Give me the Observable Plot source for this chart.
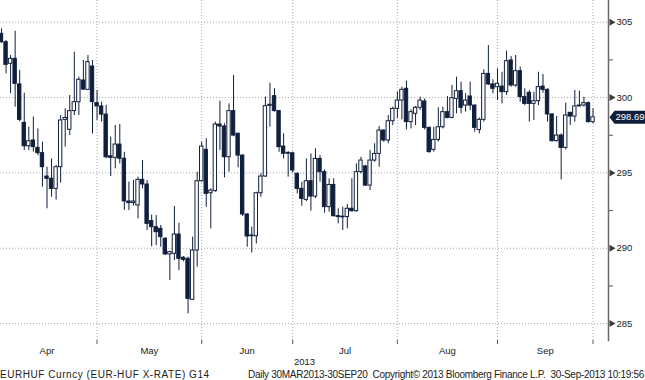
<!DOCTYPE html>
<html><head><meta charset="utf-8">
<script src="https://cdn.jsdelivr.net/npm/d3@7"></script>
<script src="https://cdn.jsdelivr.net/npm/@observablehq/plot@0.6"></script>
<style>
body{margin:0;background:#fff;width:645px;height:380px;overflow:hidden;font-family:"Liberation Sans",Arial,sans-serif;}
#footer{position:relative;height:14px;font-size:10px;color:#222;}
#footer span{position:absolute;top:3px;white-space:pre;}
</style></head><body>
<div id="chart"></div>
<div id="footer"><span id="fl" style="left:0px;letter-spacing:0.55px">EURHUF Curncy (EUR-HUF X-RATE) G14</span><span id="fr" style="left:248px;letter-spacing:-0.29px">Daily 30MAR2013-30SEP20  Copyright© 2013 Bloomberg Finance L.P.  30-Sep-2013 10:19:56</span></div>
<script>
const opens = [304.23,303.67,302.24,302.57,300.87,298.32,296.77,297.15,296.66,296.31,294.76,294.61,293.94,295.38,298.52,297.86,299.10,299.69,301.13,300.51,302.06,299.63,299.41,298.87,296.10,296.00,296.88,295.94,293.10,293.00,292.84,294.54,294.23,291.80,291.40,291.29,290.63,289.59,289.63,290.91,289.37,289.30,286.58,289.85,294.45,296.53,293.65,293.79,298.21,298.08,296.04,299.10,297.60,296.15,292.24,290.80,290.80,293.65,294.76,299.45,300.09,299.10,296.75,296.27,296.30,294.94,293.94,293.21,294.45,293.43,295.93,295.05,292.73,294.20,292.13,292.10,292.07,292.62,292.46,295.05,295.43,294.16,295.82,296.26,297.81,297.15,298.43,299.25,299.80,300.58,298.37,298.92,299.32,299.74,297.99,296.53,297.19,298.03,299.03,298.65,299.91,300.42,299.47,300.07,299.47,297.85,298.52,301.57,300.87,300.69,300.73,300.36,302.46,300.80,301.75,300.03,300.31,299.58,299.76,300.73,300.51,298.88,297.11,297.48,296.66,298.99,298.74,299.41,299.47,299.63,298.37];
const highs = [304.56,303.79,302.79,304.40,301.80,300.29,298.03,298.70,297.92,297.04,295.38,295.93,295.50,298.81,299.25,300.14,303.01,301.35,302.46,302.79,302.46,300.47,299.70,299.48,297.37,298.15,298.21,296.37,294.39,294.50,294.72,295.83,294.50,292.20,292.17,291.51,290.70,289.80,292.77,291.66,289.45,289.41,290.74,295.05,297.04,297.26,293.94,298.37,299.76,298.26,299.58,301.46,297.63,296.20,292.30,291.40,293.72,294.94,300.03,300.95,300.58,299.15,297.60,296.40,296.37,295.00,294.38,295.93,296.26,296.60,296.15,295.20,294.61,294.61,292.62,292.72,292.90,294.61,295.60,296.04,295.50,296.49,296.93,298.08,297.85,298.81,299.36,300.36,300.69,301.09,299.19,299.41,300.03,299.91,298.03,298.03,299.32,299.36,300.07,300.80,301.35,301.02,300.25,301.02,299.50,298.65,301.84,303.45,301.18,301.91,301.68,303.08,302.72,302.79,302.02,300.58,300.47,300.36,301.68,301.53,300.58,298.92,298.74,297.59,299.63,299.00,300.47,300.43,300.02,299.70,299.26];
const lows = [303.60,301.57,300.25,299.36,298.40,296.49,296.49,296.38,296.15,294.05,292.62,293.39,293.20,294.32,296.71,297.48,298.80,298.81,300.47,300.47,297.59,298.48,298.37,295.94,294.76,295.27,295.60,292.51,292.50,292.80,291.95,293.94,291.18,290.10,290.18,290.07,289.52,287.86,289.19,288.52,289.10,285.65,286.53,288.74,294.38,292.72,291.29,293.72,296.49,294.67,295.05,297.40,295.34,292.11,290.07,289.68,290.29,293.39,294.70,298.04,299.04,296.37,295.93,294.72,294.99,293.61,292.79,293.10,292.46,293.30,294.38,292.33,292.40,292.07,291.62,291.18,291.29,292.40,292.40,294.94,294.10,293.83,295.71,295.38,297.04,296.93,298.14,298.59,298.52,297.85,297.92,298.14,299.14,297.85,296.31,296.38,297.04,297.92,298.59,298.59,298.92,298.92,299.03,299.14,297.70,297.59,298.37,300.80,300.25,299.80,299.58,300.14,300.69,300.69,299.69,299.47,298.37,298.48,299.47,300.29,298.37,297.04,297.04,294.54,296.53,298.15,298.37,299.40,299.37,298.30,298.26];
const closes = [303.67,302.17,302.57,300.91,298.52,296.77,297.10,296.71,296.31,295.38,294.61,293.94,295.38,298.48,298.65,299.10,299.69,301.18,300.53,302.35,299.70,299.41,298.87,296.04,296.00,296.88,295.94,293.11,293.00,293.10,294.54,294.23,291.62,291.40,291.07,290.74,289.59,289.74,290.91,289.30,289.23,286.64,289.85,294.45,296.75,293.61,293.83,298.21,298.08,296.04,299.10,297.48,296.15,292.24,290.78,290.85,293.65,294.76,299.43,299.52,299.10,296.71,296.27,296.33,295.16,293.94,293.28,294.45,293.43,295.93,295.05,292.73,294.20,292.13,292.07,292.05,292.62,292.46,295.05,295.82,294.16,295.82,296.26,297.81,297.15,298.43,299.25,299.80,300.51,298.37,299.03,299.32,299.80,297.99,296.38,297.19,298.03,299.03,298.65,299.96,300.42,299.32,299.80,299.47,297.99,298.52,301.57,300.87,300.58,300.91,300.36,302.41,300.80,301.75,300.03,299.58,299.58,299.76,300.69,300.51,298.88,297.11,297.48,296.66,298.81,298.74,299.41,299.47,299.63,298.37,298.69];
const months = ["Apr","May","Jun","Jul","Aug","Sep"];
const monthEnds = [21,44,64,87,109,130]; // trading-day index of each month's last session
const yearLabel = "2013";
const yTicks = [285,290,295,300,305];
const yMinor = [287.5,292.5,297.5,302.5];

const candles = opens.map((o, i) => ({i, open: o, high: highs[i], low: lows[i], close: closes[i]}));
const monthLabels = months.map((m, k) => ({name: m, x: ((k ? monthEnds[k-1] : -1) + monthEnds[k]) / 2}));
const last = candles[candles.length - 1];

const navy = "#0f1f3c";
const grid = "#a8a8a8";
const xMin = -0.22, xMax = 133.4;

const tagSymbol = {draw(ctx) {
  ctx.moveTo(1, 0); ctx.lineTo(6, -6.5); ctx.lineTo(37, -6.5); ctx.lineTo(37, 6.5); ctx.lineTo(6, 6.5); ctx.closePath();
}};

const chart = Plot.plot({
  width: 645, height: 366,
  marginTop: 0, marginLeft: 0, marginRight: 37, marginBottom: 26,
  x: {domain: [xMin, xMax], axis: null},
  y: {domain: [283.88, 306.44], axis: null},
  style: {fontFamily: '"Liberation Sans", Arial, sans-serif', fontSize: "9.5px", color: "#222", background: "white", overflow: "visible"},
  marks: [
    Plot.ruleY(yTicks, {stroke: grid, strokeDasharray: "1,2"}),
    Plot.ruleX(monthEnds, {stroke: grid, strokeDasharray: "1,2"}),
    Plot.ruleX(candles, {x: "i", y1: "low", y2: "high", stroke: navy, strokeWidth: 1}),
    Plot.rect(candles, {
      x1: d => d.i - 0.37, x2: d => d.i + 0.37,
      y1: d => Math.min(d.open, d.close), y2: d => Math.max(d.open, d.close),
      fill: d => d.close >= d.open ? "white" : navy, stroke: navy, strokeWidth: 1
    }),
    Plot.frame({anchor: "right", stroke: "#6a6a6a", strokeWidth: 1.5}),
    Plot.axisY({anchor: "right", ticks: yMinor, tickSize: 4, tickFormat: () => "", stroke: "#555"}),
    Plot.axisY({anchor: "right", ticks: yTicks, tickSize: 0, tickPadding: 8, fontSize: 9.5, fill: "#222"}),
    Plot.dot(yTicks, {x: xMax, y: d => d, symbol: "triangle", r: 2.6, rotate: 90, fill: "#3a3a3a", dx: 3}),
    Plot.axisX({ticks: monthEnds, tickSize: 4, tickFormat: () => "", stroke: "#555"}),
    Plot.text(monthLabels, {x: "x", text: "name", frameAnchor: "bottom", dy: 13, fontSize: 9.5, fill: "#222"}),
    Plot.text([yearLabel], {text: d => d, frameAnchor: "bottom", dy: 24, fontSize: 9.5, fill: "#222"}),
    Plot.dot([last], {x: xMax, y: "close", symbol: tagSymbol, fill: navy, stroke: "none"}),
    Plot.text([last], {x: xMax, y: "close", text: d => d.close.toFixed(2), dx: 21.5, fill: "white", fontSize: 9.5, textAnchor: "middle"})
  ]
});
document.getElementById("chart").appendChild(chart);
</script>
</body></html>
